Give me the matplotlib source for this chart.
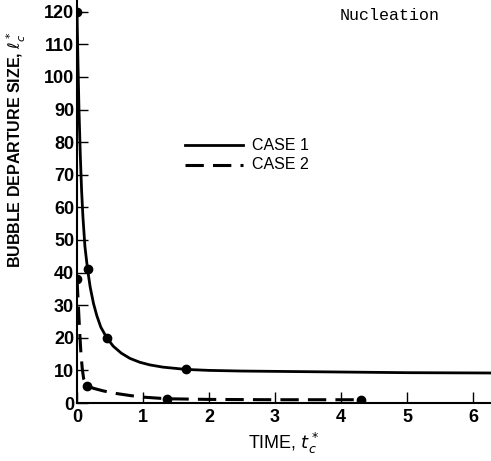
import matplotlib
matplotlib.use("Agg")
import matplotlib.pyplot as plt

# Case 1 curve
case1_t = [0.0, 0.015, 0.03, 0.05, 0.07, 0.09, 0.12, 0.16, 0.2, 0.25, 0.3, 0.36, 0.45, 0.55, 0.67, 0.8, 0.95, 1.1, 1.3, 1.5, 1.65, 2.0, 2.5, 3.0, 4.0, 5.0, 6.3]
case1_v = [120, 104, 90, 76, 65, 57, 48, 41, 35.5, 30.5, 26.8, 23.3, 20, 17.4, 15.3, 13.7, 12.5, 11.7, 11.0, 10.6, 10.3, 10.0, 9.8, 9.7, 9.5, 9.3, 9.2]
case1_pts_t = [0.0, 0.16, 0.45, 1.65]
case1_pts_v = [120, 41, 20, 10.3]

# Case 2 curve
case2_t = [0.0, 0.02, 0.04, 0.06, 0.08, 0.1, 0.15, 0.25, 0.4, 0.6, 0.8, 1.0, 1.36, 2.0, 3.0, 4.3]
case2_v = [38, 30, 22, 15, 10.5, 7.5, 5.3, 4.5, 3.7, 2.9, 2.3, 1.8, 1.3, 1.1, 1.0, 1.0]
case2_pts_t = [0.0, 0.15, 1.36, 4.3]
case2_pts_v = [38, 5.3, 1.3, 1.0]

xticks = [0, 1, 2, 3, 4, 5, 6]
yticks = [0, 10, 20, 30, 40, 50, 60, 70, 80, 90, 100, 110, 120]

plt.rcParams['font.family'] = ['Liberation Sans', 'DejaVu Sans']
fig = plt.figure(figsize=(4.91, 4.61), dpi=100)
ax = fig.add_axes([77/491, 58/461, 1 - 77/491, 403/461])

ax.plot(case1_t, case1_v, color='black', lw=2.0, solid_capstyle='round')
ax.plot(case1_pts_t, case1_pts_v, 'o', color='black', ms=6)
ax.plot(case2_t, case2_v, color='black', lw=2.2, dashes=(6, 3))
ax.plot(case2_pts_t, case2_pts_v, 'o', color='black', ms=6)

ax.set_xlim(0, 6.27)
ax.set_ylim(0, 123.6)
ax.set_xticks(xticks)
ax.set_yticks(yticks)
ax.tick_params(direction='in', length=8, width=1, labelsize=13, pad=4)
ax.tick_params(axis='y', pad=2)
for lab in ax.get_xticklabels() + ax.get_yticklabels():
    lab.set_fontweight('bold')
for s in ['top', 'right']:
    ax.spines[s].set_visible(False)
for s in ['left', 'bottom']:
    ax.spines[s].set_linewidth(1.5)

# legend drawn manually in data coordinates
ax.plot([1.64, 2.52], [79, 79], color='black', lw=2.0, clip_on=False)
ax.plot([1.64, 2.52], [73, 73], color='black', lw=2.2, dashes=(6, 3))
ax.text(2.65, 79, 'CASE 1', fontsize=11.5, va='center', ha='left')
ax.text(2.65, 73, 'CASE 2', fontsize=11.5, va='center', ha='left')

ax.set_xlabel('TIME, $t_c^*$', fontsize=13, labelpad=4)
ax.set_ylabel('BUBBLE DEPARTURE SIZE, $\\ell_c^*$', fontsize=11.5, fontweight='bold')
ax.yaxis.set_label_coords(-0.118, 0.63)

fig.text(340/491, 1 - 15/461, 'Nucleation', family='Liberation Mono', fontsize=12, va='center', ha='left')

fig.savefig('out.png', dpi=100)
